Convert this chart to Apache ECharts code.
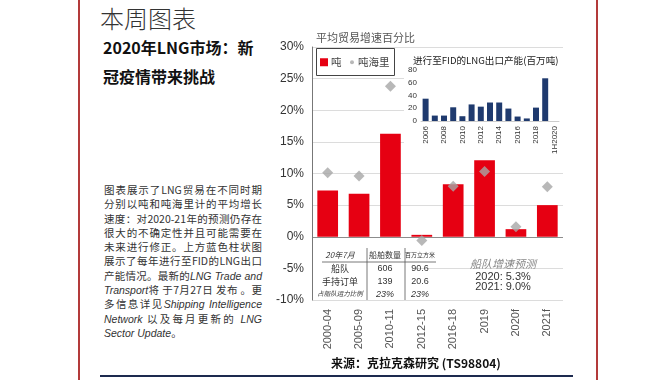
<!DOCTYPE html>
<html>
<head>
<meta charset="utf-8">
<script src="https://cdn.jsdelivr.net/npm/echarts@6/dist/echarts.min.js"></script>
<style>
html,body{margin:0;padding:0;background:#fff;}
#page{position:relative;width:670px;height:380px;overflow:hidden;background:#fff;font-family:"Noto Sans CJK SC","Liberation Sans",sans-serif;}
#chart{position:absolute;left:0;top:0;width:670px;height:380px;}
.vline{position:absolute;top:0;width:1.5px;height:380px;background:#b33a3a;}
#hline{position:absolute;left:100px;top:375px;width:473px;height:2px;background:#1d2a4f;}
#h1{position:absolute;left:100px;top:2px;font-size:24px;font-weight:300;color:#333;line-height:32px;}
#h2{position:absolute;left:103px;top:33px;width:160px;font-size:16px;font-weight:700;color:#111;line-height:29px;}
#para{position:absolute;left:104px;top:183px;width:158px;font-size:10.5px;color:#333;line-height:14.3px;}
#para div{text-align:justify;text-align-last:justify;text-justify:inter-character;height:14.3px;overflow:visible;}
#para div.last{text-align-last:left;}
#para i{font-family:"Liberation Sans",Arial,sans-serif;}
</style>
</head>
<body>
<div id="page">
  <div class="vline" style="left:78px"></div>
  <div class="vline" style="left:596px"></div>
  <div id="hline"></div>
  <div id="h1">本周图表</div>
  <div id="h2">2020年LNG市场：新冠疫情带来挑战</div>
  <div id="para">
    <div>图表展示了LNG贸易在不同时期</div>
    <div>分别以吨和吨海里计的平均增长</div>
    <div>速度：对2020-21年的预测仍存在</div>
    <div>很大的不确定性并且可能需要在</div>
    <div>未来进行修正。上方蓝色柱状图</div>
    <div>展示了每年进行至FID的LNG出口</div>
    <div>产能情况。最新的<i>LNG Trade and</i></div>
    <div><i>Transport</i>将 于7月27日 发布 。更</div>
    <div>多信息详见<i>Shipping Intelligence</i></div>
    <div><i>Network</i> 以及每月更新的 <i>LNG</i></div>
    <div class="last"><i>Sector Update</i>。</div>
  </div>
  <div id="chart"></div>
</div>
<script>
// ---- data ----
const categories = ['2000-04','2005-09','2010-11','2012-15','2016-18','2019','2020f','2021f'];
const tonnes = [7.3, 6.8, 16.3, 0.3, 8.3, 12.1, 1.2, 5.0];
const tonneMiles = [10.1, 9.6, 23.8, -0.6, 8.0, 10.3, 1.6, 7.9];
const fidYears = ['2006','2007','2008','2009','2010','2011','2012','2013','2014','2015','2016','2017','2018','2019','1H2020'];
const fidCapacity = [35, 8.5, 8.5, 21.5, 7.5, 26, 22.5, 29, 29, 19.5, 7, 4, 21, 67, 0];
const tableHeader = ['20年7月','船舶数量','百万立方米'];
const tableRows = [['船队','606','90.6'],['手持订单','139','20.6'],['占船队运力比例','23%','23%']];
const forecastLines = ['船队增速预测','2020: 5.3%','2021: 9.0%'];
const mainTitle = '平均贸易增速百分比';
const insetTitle = '进行至FID的LNG出口产能(百万吨)';
const sourceText = '来源：克拉克森研究 (TS98804)';

const chart = echarts.init(document.getElementById('chart'), null, {renderer:'canvas'});
const sans = '"Liberation Sans", Arial, sans-serif';
const cjk = '"Noto Sans CJK SC", sans-serif';

const graphics = [];
// white panel behind inset
graphics.push({type:'rect', z:1, shape:{x:404,y:49,width:161,height:100}, style:{fill:'#fff'}});
// white panel behind table
graphics.push({type:'rect', z:1, shape:{x:313,y:245,width:101,height:54}, style:{fill:'#fff'}});
// legend box
graphics.push({type:'rect', z:3, shape:{x:316.5,y:48.5,width:78,height:27}, style:{fill:'#fff', stroke:'#444', lineWidth:1}});
// table lines
graphics.push({type:'line', z:3, shape:{x1:322,y1:262,x2:436,y2:262}, style:{stroke:'#555',lineWidth:0.8}});
graphics.push({type:'line', z:3, shape:{x1:367,y1:248,x2:367,y2:300}, style:{stroke:'#555',lineWidth:0.8}});
graphics.push({type:'line', z:3, shape:{x1:405,y1:248,x2:405,y2:300}, style:{stroke:'#555',lineWidth:0.8}});
const colX = [340, 385, 420];
const headerFonts = ['italic 8px '+cjk, '8px '+cjk, '6px '+cjk];
tableHeader.forEach((t,i)=>{
  graphics.push({type:'text', z:3, style:{text:t, x:colX[i], y:255, textAlign:'center', textVerticalAlign:'middle', font:headerFonts[i], fill:'#333'}});
});
const rowY = [269, 282, 294];
tableRows.forEach((row,r)=>{
  row.forEach((t,i)=>{
    let f = '9px '+(i===0?cjk:sans);
    if (r===2 && i===0) f = 'italic 6.5px '+cjk;
    if (r===2 && i>0) f = 'italic 9px '+sans;
    graphics.push({type:'text', z:3, style:{text:t, x:colX[i], y:rowY[r], textAlign:'center', textVerticalAlign:'middle', font:f, fill:'#333'}});
  });
});
// forecast annotation
graphics.push({type:'text', z:3, style:{text:forecastLines[0], x:503, y:264, textAlign:'center', textVerticalAlign:'middle', font:'italic 11px '+cjk, fill:'#888'}});
graphics.push({type:'text', z:3, style:{text:forecastLines[1], x:503, y:277, textAlign:'center', textVerticalAlign:'middle', font:'11px '+sans, fill:'#333'}});
graphics.push({type:'text', z:3, style:{text:forecastLines[2], x:503, y:287, textAlign:'center', textVerticalAlign:'middle', font:'11px '+sans, fill:'#333'}});
// titles
graphics.push({type:'text', z:3, style:{text:mainTitle, x:316, y:38, textAlign:'left', textVerticalAlign:'middle', font:'11px '+cjk, fill:'#555'}});
graphics.push({type:'text', z:10, style:{text:insetTitle, x:413, y:60, textAlign:'left', textVerticalAlign:'middle', font:'9.6px '+cjk, fill:'#222'}});
graphics.push({type:'text', z:3, style:{text:sourceText, x:416, y:363, textAlign:'center', textVerticalAlign:'middle', font:'bold 12px '+cjk, fill:'#111'}});

const splitColors = ['#dcdcdc','#dcdcdc','#8c8c8c','#dcdcdc','#dcdcdc','#dcdcdc','#dcdcdc','#dcdcdc','#dcdcdc'];

chart.setOption({
  animation:false,
  backgroundColor:'transparent',
  graphic: graphics,
  legend:[
    {left:318, top:55, padding:2, itemWidth:8, itemHeight:8, itemGap:4, z:5,
     textStyle:{fontSize:10.5, color:'#444', fontFamily:cjk, padding:[0,0,0,-2]},
     data:[{name:'吨', icon:'rect'}]},
    {left:348, top:55, padding:2, itemWidth:4, itemHeight:4, itemGap:4, z:5,
     textStyle:{fontSize:10.5, color:'#444', fontFamily:cjk, padding:[0,0,0,-1]},
     data:[{name:'吨海里', icon:'circle'}]}
  ],
  grid:[
    {left:312, right:107, top:47, bottom:80},
    {left:421, right:111, top:70, bottom:259, z:5}
  ],
  xAxis:[
    {type:'category', gridIndex:0, data:categories, position:'bottom',
     axisLine:{show:false}, axisTick:{show:false},
     axisLabel:{rotate:90, margin:9, fontSize:11, color:'#555', fontFamily:sans, interval:0}},
    {type:'category', gridIndex:1, data:fidYears, z:5,
     axisLine:{show:true, lineStyle:{color:'#ccc'}}, axisTick:{show:false},
     axisLabel:{rotate:90, margin:5, fontSize:8, color:'#333', fontFamily:sans, interval:1}}
  ],
  yAxis:[
    {type:'value', gridIndex:0, min:-10, max:30, interval:5,
     axisLine:{show:true, lineStyle:{color:'#777', width:1}}, axisTick:{show:false},
     axisLabel:{formatter:'{value}%', fontSize:12, color:'#333', fontFamily:sans, margin:8},
     splitLine:{show:true, lineStyle:{color:splitColors, width:1}}},
    {type:'value', gridIndex:1, min:0, max:80, interval:20, z:5,
     axisLine:{show:false}, axisTick:{show:false},
     axisLabel:{fontSize:8, color:'#333', fontFamily:sans, margin:4},
     splitLine:{show:false}}
  ],
  series:[
    {name:'吨', type:'bar', xAxisIndex:0, yAxisIndex:0, data:tonnes, barCategoryGap:'34%',
     itemStyle:{color:'#e60012'}, z:2},
    {name:'吨海里', type:'scatter', xAxisIndex:0, yAxisIndex:0, data:tonneMiles,
     symbol:'diamond', symbolSize:[11,11], itemStyle:{color:'#a6a6a6'}, z:4},
    {name:'FID', type:'bar', xAxisIndex:1, yAxisIndex:1, data:fidCapacity, barCategoryGap:'35%',
     itemStyle:{color:'#1f3a6e'}, z:6}
  ]
});
</script>
</body>
</html>
